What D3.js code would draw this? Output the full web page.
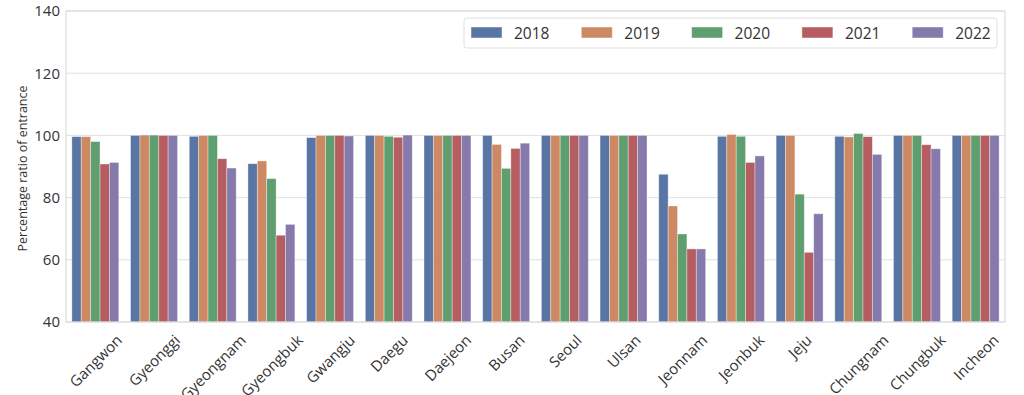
<!DOCTYPE html>
<html>
<head>
<meta charset="utf-8">
<script src="https://d3js.org/d3.v7.min.js"></script>
<style>
  body { margin: 0; background: #fff; }
  text { font-family: "Open Sans", sans-serif; fill: #333; }
</style>
</head>
<body>
<div id="chart"></div>
<script>
// regions on the x axis
var regions = ["Gangwon", "Gyeonggi", "Gyeongnam", "Gyeongbuk", "Gwangju", "Daegu", "Daejeon", "Busan",
               "Seoul", "Ulsan", "Jeonnam", "Jeonbuk", "Jeju", "Chungnam", "Chungbuk", "Incheon"];
var years = ["2018", "2019", "2020", "2021", "2022"];

// percentage ratio of entrance, one array per year (same order as regions)
var v2018 = [99.6, 100, 99.7, 90.9, 99.3, 100, 100, 100, 100, 100, 87.5, 99.7, 100, 99.7, 100, 100];
var v2019 = [99.6, 100.1, 100, 91.8, 100, 100, 100, 97.1, 100, 100, 77.3, 100.3, 100, 99.5, 100, 100];
var v2020 = [98.0, 100.1, 100, 86.1, 100, 99.7, 100, 89.4, 100, 100, 68.3, 99.7, 81.1, 100.6, 100, 100];
var v2021 = [90.8, 100, 92.5, 67.9, 100, 99.4, 100, 95.8, 100, 100, 63.5, 91.3, 62.4, 99.6, 97.0, 100];
var v2022 = [91.3, 100, 89.5, 71.4, 99.8, 100.1, 100, 97.5, 100, 100, 63.5, 93.4, 74.8, 93.9, 95.7, 100];
var series = [v2018, v2019, v2020, v2021, v2022];

var yTicks = [40, 60, 80, 100, 120, 140];
var colors = ["#5975a4", "#cc8963", "#5f9e6e", "#b55d60", "#857aab"];

var W = 1024, H = 395;
var margin = {top: 11, right: 19, bottom: 73, left: 66};
var width = W - margin.left - margin.right,
    height = H - margin.top - margin.bottom;

var svg = d3.select("#chart").append("svg")
    .attr("width", W)
    .attr("height", H)
  .append("g")
    .attr("transform", "translate(" + margin.left + "," + margin.top + ")");

var x = d3.scaleBand().domain(regions).range([0, width]).paddingInner(0).paddingOuter(0);
var xHue = d3.scaleBand().domain(years).range([x.bandwidth() * 0.1, x.bandwidth() * 0.9]);
var y = d3.scaleLinear().domain([40, 140]).range([height, 0]);

// grid
svg.append("g")
  .selectAll("line")
  .data(yTicks)
  .enter().append("line")
    .attr("x1", 0).attr("x2", width)
    .attr("y1", function(d) { return y(d); })
    .attr("y2", function(d) { return y(d); })
    .style("stroke", "#e0e0e0")
    .style("stroke-width", 1);

// bars
var data = [];
regions.forEach(function(r, i) {
  years.forEach(function(yr, j) {
    data.push({region: r, year: yr, value: series[j][i], k: j});
  });
});

svg.append("g")
  .selectAll("rect")
  .data(data)
  .enter().append("rect")
    .attr("x", function(d) { return x(d.region) + xHue(d.year); })
    .attr("y", function(d) { return y(d.value); })
    .attr("width", xHue.bandwidth())
    .attr("height", function(d) { return y(40) - y(d.value); })
    .style("fill", function(d) { return colors[d.k]; })
    .style("stroke", "#fff")
    .style("stroke-opacity", 0.45)
    .style("stroke-width", 0.8);

// frame
svg.append("rect")
  .attr("x", 0).attr("y", 0)
  .attr("width", width).attr("height", height)
  .style("fill", "none")
  .style("stroke", "#dcdcdc")
  .style("stroke-width", 1.2);

// y axis
var yAxis = svg.append("g")
  .call(d3.axisLeft(y).tickValues(yTicks).tickSize(0).tickPadding(6).tickFormat(d3.format("d")));
yAxis.select(".domain").remove();
yAxis.selectAll("text")
  .style("font-size", "15px")
  .style("font-family", "Open Sans, sans-serif")
  .style("fill", "#333");

svg.append("text")
  .attr("transform", "rotate(-90)")
  .attr("x", -height / 2 - 2)
  .attr("y", -margin.left + 27)
  .style("text-anchor", "middle")
  .style("font-size", "12.5px")
  .text("Percentage ratio of entrance");

// x labels, rotated 45 and centred under each group
var xl = svg.append("g");
regions.forEach(function(r) {
  var t = xl.append("text")
    .style("font-size", "15px")
    .style("text-anchor", "middle")
    .attr("dominant-baseline", "central")
    .text(r);
  var w = t.node().getComputedTextLength();
  var h = 17;
  var cx = x(r) + x.bandwidth() / 2;
  var cy = height + 9 + (w + h) * Math.SQRT1_2 / 2;
  t.attr("transform", "translate(" + cx + "," + cy + ") rotate(-45)");
});

// legend
var legend = svg.append("g").attr("transform", "translate(" + (464 - margin.left) + "," + (18 - margin.top) + ")");
legend.append("rect")
  .attr("width", 533).attr("height", 30)
  .attr("rx", 3)
  .style("fill", "#fff").style("fill-opacity", 0.8)
  .style("stroke", "#e0e0e0");
years.forEach(function(yr, j) {
  var g = legend.append("g").attr("transform", "translate(" + (7 + j * 110.3) + ",0)");
  g.append("rect")
    .attr("x", 0).attr("y", 9)
    .attr("width", 31).attr("height", 11)
    .style("fill", colors[j])
    .style("stroke", "#fff").style("stroke-opacity", 0.45);
  g.append("text")
    .attr("x", 43).attr("y", 20.5)
    .style("font-size", "15.5px")
    .text(yr);
});
</script>
</body>
</html>
